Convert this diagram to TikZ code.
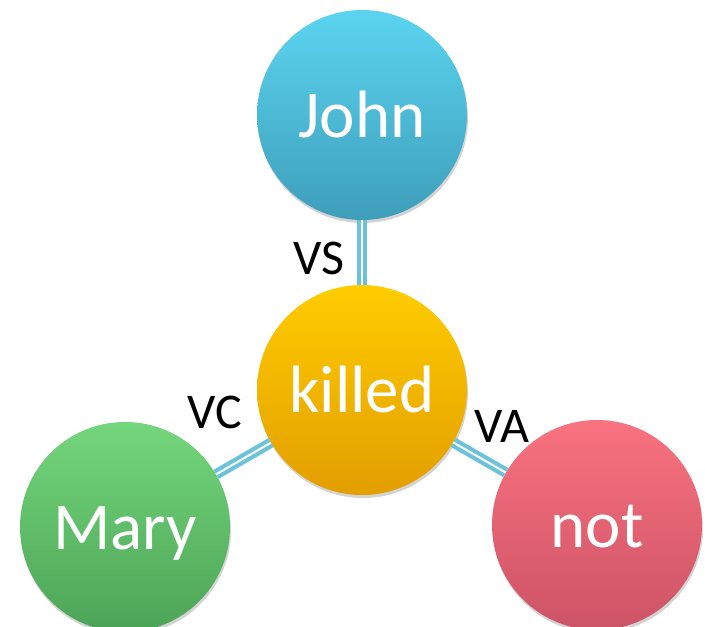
\documentclass[tikz,border=0pt]{standalone}
\usepackage{fontspec}
\setmainfont{Carlito}
\usepackage{xcolor}
\usetikzlibrary{shadows}

\definecolor{johnT}{HTML}{5BD4F0}
\definecolor{johnB}{HTML}{3E9EBA}
\definecolor{killT}{HTML}{FFCC00}
\definecolor{killB}{HTML}{E39E00}
\definecolor{maryT}{HTML}{74D67C}
\definecolor{maryB}{HTML}{4CA456}
\definecolor{notT}{HTML}{F9727F}
\definecolor{notB}{HTML}{CC5366}
\definecolor{linkblue}{HTML}{6CC3D9}

\begin{document}
\begin{tikzpicture}[x=1pt,y=-1pt,
	word/.style={circle,minimum size=210pt,inner sep=0pt,text=white,
		font=\fontsize{67}{72}\selectfont,text height=45pt,text depth=0pt,
		drop shadow={opacity=0.35,shadow xshift=1pt,shadow yshift=-3pt}},
	rel/.style={draw=linkblue,line width=4.2pt,double=white,double distance=2pt},
	lbl/.style={font=\fontsize{50}{54}\selectfont,inner sep=0pt}]
	\useasboundingbox (0,0) rectangle (705,627);
	
	\coordinate (j) at (362,115);
	\coordinate (k) at (362,390);
	\coordinate (m) at (125,527);
	\coordinate (n) at (597,525);
	
	\node[word,top color=johnT,bottom color=johnB] (J) at (j) {John};
	\node[word,top color=killT,bottom color=killB] (K) at (k) {killed};
	\node[word,top color=maryT,bottom color=maryB] (M) at (m) {Mary};
	\node[word,top color=notT,bottom color=notB] (N) at (n) {not};
	
	% links stop at the circle borders
	\draw[rel] (K) -- (J);
	\draw[rel] (K) -- (M);
	\draw[rel] (K) -- (N);
	
	\node[lbl] (vs) at (319,258) {VS};
	\node[lbl] (vc) at (215,412) {VC};
	\node[lbl] (va) at (502,426) {VA};
\end{tikzpicture}
\end{document}
